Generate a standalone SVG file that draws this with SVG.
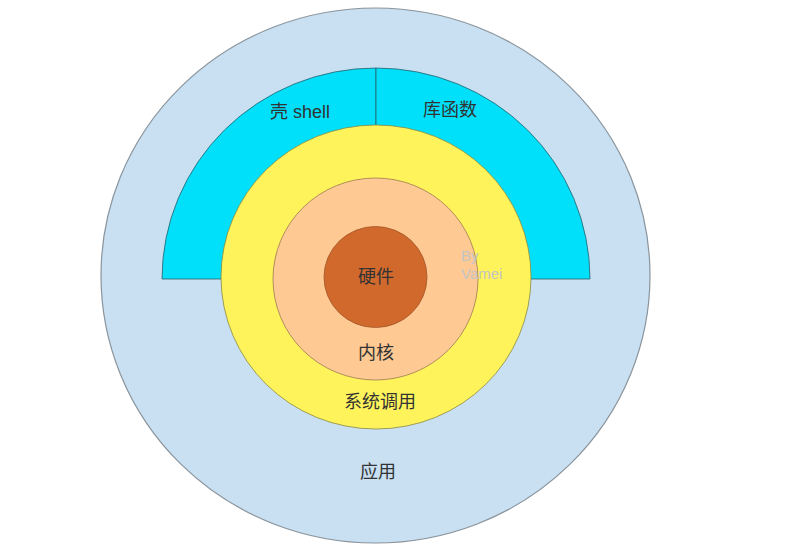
<svg xmlns="http://www.w3.org/2000/svg" width="800" height="558" viewBox="0 0 800 558">
<style>
text{font-family:"Liberation Sans","Noto Sans CJK SC",sans-serif;font-size:18px;fill:#333;text-anchor:middle;dominant-baseline:central}
.wm{fill:#c4c4c4;font-size:15px;text-anchor:start}
</style>
<rect width="800" height="558" fill="#fff"/>
<g id="app">
<ellipse cx="375.5" cy="275.5" rx="274.5" ry="267.5" fill="#c8e0f2" stroke="#8a949c" stroke-width="1.2"/>
<text x="378" y="472">应用</text>
</g>
<g id="shell">
<path d="M162,279 A214,211 0 0 1 376,68 L376,279 Z" fill="#00e0fa" stroke="#2a5f6a" stroke-width="0.8"/>
<text x="300" y="112">壳 shell</text>
</g>
<g id="lib">
<path d="M376,68 A214,211 0 0 1 590,279 L376,279 Z" fill="#00e0fa" stroke="#2a5f6a" stroke-width="0.8"/>
<text x="450" y="110">库函数</text>
</g>
<g id="syscall">
<ellipse cx="376" cy="277" rx="155" ry="152" fill="#fff35c" stroke="#8a8a40" stroke-width="0.8"/>
<text x="380" y="402">系统调用</text>
</g>
<g id="kernel">
<ellipse cx="375.5" cy="279" rx="102.5" ry="101" fill="#ffc994" stroke="#9a7a50" stroke-width="0.8"/>
<text x="376" y="353">内核</text>
</g>
<g id="hardware">
<ellipse cx="375.5" cy="277" rx="51.5" ry="50.5" fill="#d2692c" stroke="#a0582a" stroke-width="0.8"/>
<text x="376" y="277">硬件</text>
</g>
<g id="watermark">
<text class="wm" x="461" y="255">By</text>
<text class="wm" x="461" y="273">Vamei</text>
</g>
<g id="connectors"></g>
</svg>
